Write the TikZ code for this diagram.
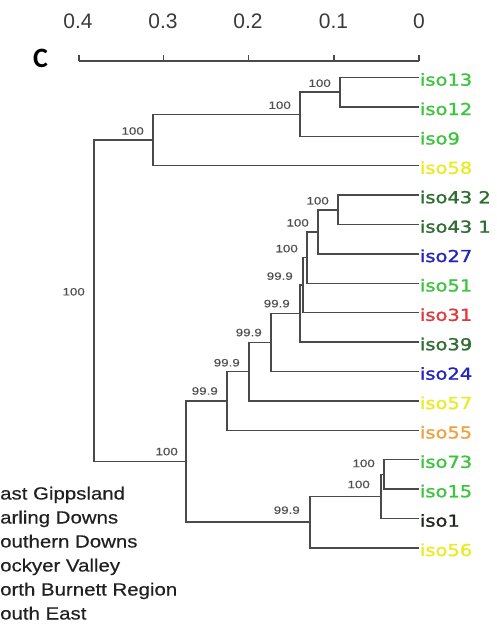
\documentclass[tikz,border=0pt]{standalone}
\usepackage{fontspec}
\setmainfont{Liberation Sans}
\newfontfamily\leaffont[FakeStretch=1.18,FakeBold=1.3]{DejaVu Sans}
\newfontfamily\supfont[FakeStretch=1.25,FakeBold=0.4]{Liberation Sans}
\newfontfamily\legfont[FakeStretch=1.16,FakeBold=0.4]{Liberation Sans}
\newfontfamily\axfont{Liberation Sans}
\newfontfamily\panelfont{Carlito}
\definecolor{treegray}{HTML}{4A4A4A}
\definecolor{supgray}{HTML}{505050}
\definecolor{leggray}{HTML}{202020}
\definecolor{axgray}{HTML}{3A3A3A}
\definecolor{lgreen}{HTML}{3CC43C}
\definecolor{dgreen}{HTML}{2E6E30}
\definecolor{lblue}{HTML}{2323C0}
\definecolor{lred}{HTML}{E03838}
\definecolor{lyellow}{HTML}{EAEA22}
\definecolor{lorange}{HTML}{EFA040}
\definecolor{ldark}{HTML}{202820}
\tikzset{
  branch/.style={draw=treegray, line width=1.5pt},
  axisline/.style={draw=treegray, line width=1.5pt},
  leaf/.style={anchor=west, inner sep=0.8pt, yshift=-2pt, font=\leaffont\fontsize{16.5}{18}\selectfont},
  sup/.style={anchor=east, inner sep=0pt, text=supgray, font=\supfont\fontsize{10.7}{12}\selectfont},
  legtext/.style={anchor=base west, inner sep=0pt, text=leggray, font=\legfont\fontsize{17.6}{20}\selectfont},
  axlabel/.style={inner sep=0pt, text=axgray, font=\axfont\fontsize{21}{24}\selectfont},
}
\begin{document}
\begin{tikzpicture}[x=1pt,y=-1pt]
\useasboundingbox (0,0) rectangle (496,627);
% scale axis
\coordinate (t4) at (79,61);
\coordinate (t3) at (163.5,61);
\coordinate (t2) at (248.5,61);
\coordinate (t1) at (334,61);
\coordinate (t0) at (419,61);
\draw[axisline] (t4) -- (t0);
\foreach \t in {t4,t3,t2,t1,t0} \draw[axisline] (\t) -- ++(0,-6);
\node[axlabel] (a4) at (78,21.5) {0.4};
\node[axlabel] (a3) at (163,21.5) {0.3};
\node[axlabel] (a2) at (248,21.5) {0.2};
\node[axlabel] (a1) at (333.5,21.5) {0.1};
\node[axlabel] (a0) at (419,21.5) {0};
\node[inner sep=0pt, font=\panelfont\bfseries\fontsize{28}{30}\selectfont] (panel) at (40.5,58) {C};
% leaves
\coordinate (l1) at (419,77.5);
\coordinate (l2) at (419,106.9);
\coordinate (l3) at (419,136.3);
\coordinate (l4) at (419,165.7);
\coordinate (l5) at (419,195.1);
\coordinate (l6) at (419,224.5);
\coordinate (l7) at (419,253.9);
\coordinate (l8) at (419,283.3);
\coordinate (l9) at (419,312.7);
\coordinate (l10) at (419,342.1);
\coordinate (l11) at (419,371.5);
\coordinate (l12) at (419,400.9);
\coordinate (l13) at (419,430.3);
\coordinate (l14) at (419,459.7);
\coordinate (l15) at (419,489.1);
\coordinate (l16) at (419,518.5);
\coordinate (l17) at (419,547.9);
% internal nodes
\coordinate (A) at (340,92.2);
\coordinate (B) at (300,114.25);
\coordinate (Cn) at (153,139.98);
\coordinate (D) at (338,209.8);
\coordinate (E) at (318,231.85);
\coordinate (F) at (307,257.58);
\coordinate (G) at (303,285.14);
\coordinate (H) at (300,313.62);
\coordinate (I) at (271,342.56);
\coordinate (J) at (249,371.73);
\coordinate (K) at (227,401.02);
\coordinate (P) at (384,474.4);
\coordinate (Q) at (381,496.45);
\coordinate (R) at (310,522.18);
\coordinate (S) at (186,461.6);
\coordinate (Root) at (94,300.79);
% branches
\draw[branch] (l1) -| (A) |- (l2);
\draw[branch] (A) -| (B) |- (l3);
\draw[branch] (B) -| (Cn) |- (l4);
\draw[branch] (l5) -| (D) |- (l6);
\draw[branch] (D) -| (E) |- (l7);
\draw[branch] (E) -| (F) |- (l8);
\draw[branch] (F) -| (G) |- (l9);
\draw[branch] (G) -| (H) |- (l10);
\draw[branch] (H) -| (I) |- (l11);
\draw[branch] (I) -| (J) |- (l12);
\draw[branch] (J) -| (K) |- (l13);
\draw[branch] (l14) -| (P) |- (l15);
\draw[branch] (P) -| (Q) |- (l16);
\draw[branch] (Q) -| (R) |- (l17);
\draw[branch] (K) -| (S) |- (R);
\draw[branch] (Cn) -| (Root) |- (S);
% leaf labels
\node[leaf, text=lgreen] (n1) at (l1) {iso13};
\node[leaf, text=lgreen] (n2) at (l2) {iso12};
\node[leaf, text=lgreen] (n3) at (l3) {iso9};
\node[leaf, text=lyellow] (n4) at (l4) {iso58};
\node[leaf, text=dgreen] (n5) at (l5) {iso43 2};
\node[leaf, text=dgreen] (n6) at (l6) {iso43 1};
\node[leaf, text=lblue] (n7) at (l7) {iso27};
\node[leaf, text=lgreen] (n8) at (l8) {iso51};
\node[leaf, text=lred] (n9) at (l9) {iso31};
\node[leaf, text=dgreen] (n10) at (l10) {iso39};
\node[leaf, text=lblue] (n11) at (l11) {iso24};
\node[leaf, text=lyellow] (n12) at (l12) {iso57};
\node[leaf, text=lorange] (n13) at (l13) {iso55};
\node[leaf, text=lgreen] (n14) at (l14) {iso73};
\node[leaf, text=lgreen] (n15) at (l15) {iso15};
\node[leaf, text=ldark] (n16) at (l16) {iso1};
\node[leaf, text=lyellow] (n17) at (l17) {iso56};
% support values
\node[sup] (sA) at ([xshift=-9pt,yshift=9pt]A) {100};
\node[sup] (sB) at ([xshift=-9pt,yshift=9pt]B) {100};
\node[sup] (sC) at ([xshift=-9pt,yshift=9pt]Cn) {100};
\node[sup] (sD) at ([xshift=-9pt,yshift=9pt]D) {100};
\node[sup] (sE) at ([xshift=-9pt,yshift=9pt]E) {100};
\node[sup] (sF) at ([xshift=-9pt,yshift=9pt]F) {100};
\node[sup] (sG) at ([xshift=-10pt,yshift=9pt]G) {99.9};
\node[sup] (sH) at ([xshift=-10pt,yshift=10pt]H) {99.9};
\node[sup] (sI) at ([xshift=-9pt,yshift=10pt]I) {99.9};
\node[sup] (sJ) at ([xshift=-9pt,yshift=9pt]J) {99.9};
\node[sup] (sK) at ([xshift=-9pt,yshift=10pt]K) {99.9};
\node[sup] (sP) at ([xshift=-9pt,yshift=11pt]P) {100};
\node[sup] (sQ) at ([xshift=-11pt,yshift=12pt]Q) {100};
\node[sup] (sR) at ([xshift=-10pt,yshift=12pt]R) {99.9};
\node[sup] (sS) at ([xshift=-8pt,yshift=10pt]S) {100};
\node[sup] (sRoot) at ([xshift=-9pt,yshift=9pt]Root) {100};
% legend (cut at the left edge)
\node[legtext] (g1) at (0,499.5) {ast Gippsland};
\node[legtext] (g2) at (0,523.5) {arling Downs};
\node[legtext] (g3) at (0,547.5) {outhern Downs};
\node[legtext] (g4) at (0,571.5) {ockyer Valley};
\node[legtext] (g5) at (0,595.5) {orth Burnett Region};
\node[legtext] (g6) at (0,619.5) {outh East};
\end{tikzpicture}
\end{document}
